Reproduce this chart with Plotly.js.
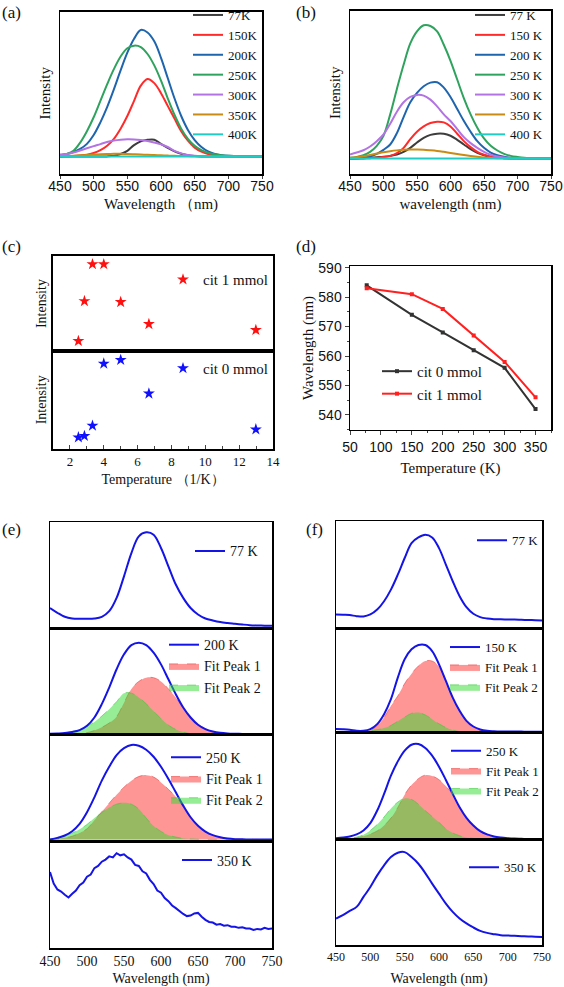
<!DOCTYPE html>
<html><head><meta charset="utf-8">
<script src="https://cdn.plot.ly/plotly-3.0.1.min.js"></script>
<style>html,body{margin:0;padding:0;background:#fff}#chart{width:564px;height:987px}</style>
</head><body><div id="chart"></div><script>
// ---------- shared wavelength grid (nm) ----------
const wavelength = [450,460,470,480,490,500,510,520,530,540,550,560,570,580,590,600,610,620,630,640,650,660,670,680,690,700,710,720,730,740,750];

// ---------- panel (a) ----------
const aLabels = ['77K','150K','200K','250K','300K','350K','400K'];
const a77  = [0,0,0,0,0,0,0,0.001,0.006,0.02,0.045,0.09,0.12,0.132,0.133,0.1,0.068,0.04,0.022,0.01,0.004,0.001,0,0,0,0,0,0,0,0,0];
const a150 = [0,0.002,0.004,0.008,0.014,0.028,0.05,0.085,0.14,0.22,0.32,0.44,0.56,0.612,0.58,0.5,0.4,0.3,0.2,0.125,0.07,0.038,0.02,0.01,0.005,0.002,0,0,0,0,0];
const a200 = [0.01,0.02,0.035,0.06,0.1,0.17,0.27,0.39,0.53,0.68,0.82,0.93,1.0,0.98,0.91,0.78,0.62,0.46,0.32,0.21,0.13,0.075,0.04,0.02,0.01,0.005,0.003,0.002,0.001,0,0];
const a250 = [0.01,0.02,0.045,0.11,0.2,0.31,0.44,0.57,0.69,0.79,0.855,0.876,0.865,0.81,0.72,0.6,0.46,0.33,0.22,0.14,0.085,0.05,0.03,0.017,0.01,0.005,0.003,0.002,0.001,0,0];
const a300 = [0.015,0.02,0.032,0.048,0.065,0.082,0.098,0.115,0.126,0.133,0.136,0.135,0.13,0.122,0.11,0.097,0.075,0.045,0.025,0.012,0.006,0.003,0.002,0.001,0.001,0.001,0.001,0.001,0.001,0.001,0.001];
const a350 = [0.003,0.004,0.006,0.009,0.012,0.015,0.018,0.02,0.021,0.021,0.02,0.018,0.016,0.013,0.011,0.009,0.007,0.005,0.004,0.003,0.002,0.001,0.001,0.001,0.001,0.001,0.001,0.001,0.001,0.001,0.001];
const a400 = [0,0,0,0,0,0,0,0,0,0,0,0,0,0,0,0,0,0,0,0,0,0,0,0,0,0,0,0,0,0,0];

// ---------- panel (b) ----------
const bLabels = ['77 K','150 K','200 K','250 K','300 K','350 K','400 K'];
const b77  = [0,0.001,0.003,0.006,0.01,0.014,0.02,0.03,0.05,0.08,0.12,0.155,0.177,0.186,0.185,0.17,0.14,0.105,0.07,0.043,0.025,0.013,0.006,0.003,0.001,0,0,0,0,0,0];
const b150 = [0,0,0.001,0.003,0.006,0.012,0.02,0.04,0.08,0.145,0.2,0.24,0.265,0.275,0.27,0.24,0.185,0.13,0.085,0.05,0.028,0.014,0.007,0.003,0.001,0,0,0,0,0,0];
const b200 = [0,0.002,0.006,0.015,0.035,0.065,0.105,0.19,0.31,0.42,0.49,0.54,0.567,0.57,0.53,0.46,0.37,0.28,0.2,0.13,0.08,0.045,0.025,0.013,0.006,0.003,0.001,0,0,0,0];
const b250 = [0.005,0.012,0.025,0.05,0.095,0.17,0.33,0.52,0.7,0.86,0.95,0.995,0.99,0.95,0.85,0.73,0.59,0.45,0.33,0.23,0.15,0.095,0.06,0.035,0.02,0.012,0.006,0.003,0.001,0,0];
const b300 = [0.03,0.045,0.062,0.09,0.13,0.18,0.26,0.35,0.42,0.46,0.475,0.47,0.44,0.39,0.33,0.28,0.22,0.16,0.115,0.08,0.05,0.028,0.015,0.008,0.004,0.002,0.001,0,0,0,0];
const b350 = [0.005,0.01,0.018,0.027,0.037,0.047,0.055,0.061,0.065,0.067,0.067,0.066,0.062,0.057,0.05,0.042,0.034,0.026,0.019,0.013,0.008,0.005,0.003,0.002,0.001,0,0,0,0,0,0];
const b400 = [0,0,0,0,0,0,0,0,0,0,0,0,0,0,0,0,0,0,0,0,0,0,0,0,0,0,0,0,0,0,0];

// ---------- panel (c) ----------
const cInvTemp = [2.5,2.857,3.333,4,5,6.667,12.987];
const cCit1 = [0.105,0.526,0.916,0.916,0.516,0.284,0.221];
const cCit0 = [0.115,0.13,0.235,0.87,0.908,0.564,0.197];

// ---------- panel (d) ----------
const dTemp = [77,150,200,250,300,350];
const dCit0 = [584,574,568,562,556,542];
const dCit1 = [583,581,576,567,558,546];

// ---------- panel (e) ----------
const e77   = [0.19,0.145,0.107,0.091,0.088,0.088,0.091,0.107,0.16,0.286,0.49,0.71,0.868,0.906,0.884,0.758,0.585,0.412,0.286,0.19,0.129,0.091,0.072,0.057,0.048,0.041,0.034,0.028,0.025,0.023,0.022];
const e200  = [0.01,0.012,0.016,0.026,0.044,0.084,0.162,0.287,0.442,0.614,0.754,0.841,0.863,0.841,0.77,0.66,0.52,0.38,0.256,0.162,0.094,0.053,0.031,0.019,0.013,0.01,0.008,0.007,0.006,0.006,0.006];
const e200p1 = [0,0,0.002,0.005,0.01,0.02,0.04,0.07,0.11,0.17,0.3,0.43,0.5,0.535,0.535,0.5,0.43,0.35,0.25,0.16,0.1,0.055,0.03,0.015,0.008,0.004,0.002,0.001,0,0,0];
const e200p2 = [0.005,0.01,0.018,0.03,0.05,0.08,0.12,0.175,0.24,0.31,0.39,0.39,0.35,0.29,0.22,0.15,0.09,0.05,0.025,0.01,0.005,0.003,0.001,0,0,0,0,0,0,0,0];
const e250  = [0,0.015,0.037,0.077,0.146,0.255,0.395,0.551,0.681,0.791,0.856,0.886,0.878,0.841,0.775,0.681,0.567,0.442,0.317,0.208,0.128,0.074,0.04,0.021,0.009,0.003,0.001,0,0,0,0];
const e250p1 = [0.002,0.005,0.015,0.03,0.06,0.1,0.18,0.26,0.34,0.42,0.49,0.55,0.59,0.603,0.585,0.535,0.47,0.4,0.31,0.205,0.125,0.072,0.04,0.02,0.009,0.004,0.002,0.001,0,0,0];
const e250p2 = [0.005,0.015,0.035,0.06,0.095,0.14,0.2,0.25,0.3,0.33,0.343,0.33,0.285,0.2,0.125,0.075,0.04,0.022,0.01,0.005,0.002,0,0,0,0,0,0,0,0,0,0];
const e350wl = [450,455,460,465,470,475,480,485,490,495,500,505,510,515,520,525,530,535,540,545,550,555,560,565,570,575,580,585,590,595,600,605,610,615,620,625,630,635,640,645,650,655,660,665,670,675,680,685,690,695,700,705,710,715,720,725,730,735,740,745,750];
const e350  = [0.713,0.605,0.55,0.53,0.5,0.475,0.51,0.54,0.59,0.615,0.67,0.69,0.75,0.77,0.81,0.83,0.86,0.85,0.89,0.87,0.88,0.85,0.83,0.78,0.77,0.72,0.7,0.64,0.6,0.54,0.52,0.47,0.44,0.4,0.375,0.345,0.32,0.3,0.305,0.325,0.33,0.295,0.265,0.245,0.24,0.22,0.225,0.21,0.215,0.2,0.2,0.19,0.195,0.185,0.183,0.17,0.18,0.175,0.19,0.18,0.185];

// ---------- panel (f) ----------
const f77   = [0.128,0.125,0.122,0.112,0.109,0.128,0.174,0.252,0.361,0.501,0.657,0.797,0.85,0.875,0.85,0.75,0.595,0.439,0.299,0.196,0.134,0.103,0.09,0.084,0.082,0.081,0.08,0.078,0.076,0.074,0.072];
const f150  = [0.035,0.033,0.029,0.019,0.019,0.035,0.083,0.178,0.321,0.527,0.702,0.797,0.838,0.838,0.781,0.654,0.495,0.336,0.21,0.114,0.06,0.032,0.019,0.015,0.013,0.013,0.012,0.011,0.01,0.01,0.01];
const f150p1 = [0,0,0,0.003,0.01,0.025,0.067,0.146,0.257,0.352,0.47,0.565,0.638,0.686,0.685,0.63,0.49,0.335,0.205,0.11,0.057,0.028,0.013,0.006,0.002,0,0,0,0,0,0];
const f150p2 = [0.005,0.007,0.01,0.012,0.015,0.02,0.03,0.045,0.07,0.11,0.15,0.185,0.193,0.17,0.13,0.085,0.05,0.025,0.012,0.006,0.003,0,0,0,0,0,0,0,0,0,0];
const f250  = [0.012,0.018,0.028,0.047,0.084,0.153,0.271,0.427,0.598,0.732,0.832,0.888,0.894,0.857,0.785,0.682,0.558,0.427,0.302,0.203,0.131,0.078,0.047,0.028,0.018,0.012,0.008,0.006,0.004,0.003,0.003];
const f250p1 = [0.003,0.006,0.01,0.015,0.03,0.05,0.08,0.13,0.2,0.3,0.42,0.51,0.57,0.603,0.595,0.56,0.5,0.42,0.3,0.2,0.13,0.078,0.045,0.025,0.012,0.006,0.003,0.001,0,0,0];
const f250p2 = [0.005,0.008,0.012,0.022,0.045,0.085,0.14,0.21,0.29,0.35,0.385,0.375,0.33,0.27,0.215,0.16,0.1,0.06,0.035,0.018,0.01,0.005,0.002,0,0,0,0,0,0,0,0];
const f350  = [0.252,0.283,0.324,0.362,0.456,0.55,0.66,0.755,0.833,0.874,0.88,0.833,0.77,0.682,0.582,0.487,0.393,0.314,0.252,0.205,0.167,0.135,0.116,0.104,0.094,0.091,0.088,0.085,0.082,0.08,0.078];

// ---------- styling ----------
const SERIF = 'Liberation Serif, Times New Roman, serif';
const SANS = 'Liberation Sans, Arial, sans-serif';
const abColors = ['#3d3d3d','#ff2b2b','#1f65ae','#2fa35e','#b274e2','#c98b14','#1fcdc4'];
const BLUE = '#1414e6';
const RED_FILL = 'rgba(255,45,45,0.5)';
const GREEN_FILL = 'rgba(45,220,45,0.5)';

const traces = [];
function addLines(xs, series, labels, colors, xa, ya, leg) {
  series.forEach((ys, i) => traces.push({
    type:'scatter', mode:'lines', x:xs, y:ys, name:labels[i], xaxis:xa, yaxis:ya, legend:leg,
    line:{color:colors[i], width:2, shape:'spline'}
  }));
}
addLines(wavelength, [a77,a150,a200,a250,a300,a350,a400], aLabels, abColors, 'x', 'y', 'legend');
addLines(wavelength, [b77,b150,b200,b250,b300,b350,b400], bLabels, abColors, 'x2', 'y2', 'legend2');

traces.push({type:'scatter', mode:'markers', x:cInvTemp, y:cCit1, name:'cit 1 mmol', xaxis:'x3', yaxis:'y3', legend:'legend3',
  marker:{symbol:'star', size:9, color:'#ff1010'}});
traces.push({type:'scatter', mode:'markers', x:cInvTemp, y:cCit0, name:'cit 0 mmol', xaxis:'x4', yaxis:'y4', legend:'legend4',
  marker:{symbol:'star', size:9, color:'#1010ff'}});

traces.push({type:'scatter', mode:'lines+markers', x:dTemp, y:dCit0, name:'cit 0 mmol', xaxis:'x5', yaxis:'y5', legend:'legend5',
  line:{color:'#333333', width:2}, marker:{symbol:'square', size:4, color:'#333333'}});
traces.push({type:'scatter', mode:'lines+markers', x:dTemp, y:dCit1, name:'cit 1 mmol', xaxis:'x5', yaxis:'y5', legend:'legend5',
  line:{color:'#ff2020', width:2}, marker:{symbol:'square', size:4, color:'#ff2020'}});

function addSingle(xs, ys, name, xa, ya, leg, shape) {
  traces.push({type:'scatter', mode:'lines', x:xs, y:ys, name, xaxis:xa, yaxis:ya, legend:leg,
    line:{color:BLUE, width:2, shape:shape||'spline'}});
}
function addFit(ys, p1, p2, name, xa, ya, leg) {
  traces.push({type:'scatter', mode:'lines', x:wavelength, y:p1, name:'Fit Peak 1', xaxis:xa, yaxis:ya, legend:leg, legendrank:2,
    fill:'tozeroy', fillcolor:RED_FILL, line:{color:'rgba(230,60,60,0.7)', width:0.8, dash:'dash', shape:'spline'}});
  traces.push({type:'scatter', mode:'lines', x:wavelength, y:p2, name:'Fit Peak 2', xaxis:xa, yaxis:ya, legend:leg, legendrank:3,
    fill:'tozeroy', fillcolor:GREEN_FILL, line:{color:'rgba(60,200,60,0.7)', width:0.8, dash:'dash', shape:'spline'}});
  traces.push({type:'scatter', mode:'lines', x:wavelength, y:ys, name, xaxis:xa, yaxis:ya, legend:leg, legendrank:1,
    line:{color:BLUE, width:2, shape:'spline'}});
}
addSingle(wavelength, e77, '77 K', 'x6', 'y6', 'legend6');
addFit(e200, e200p1, e200p2, '200 K', 'x7', 'y7', 'legend7');
addFit(e250, e250p1, e250p2, '250 K', 'x8', 'y8', 'legend8');
addSingle(e350wl, e350, '350 K', 'x9', 'y9', 'legend9', 'linear');
addSingle(wavelength, f77, '77 K', 'x10', 'y10', 'legend10');
addFit(f150, f150p1, f150p2, '150 K', 'x11', 'y11', 'legend11');
addFit(f250, f250p1, f250p2, '250 K', 'x12', 'y12', 'legend12');
addSingle(wavelength, f350, '350 K', 'x13', 'y13', 'legend13');

// ---------- axes ----------
function ax(extra) {
  return Object.assign({showline:true, mirror:true, linecolor:'#000', linewidth:1.5, showgrid:false, zeroline:false,
    ticks:'', showticklabels:false, fixedrange:true}, extra);
}
const px2x = p => p/564;
const px2y = p => 1 - p/987;
function xd(l, r) { return [px2x(l), px2x(r)]; }
function yd(t, b) { return [px2y(b), px2y(t)]; }

const layout = {
  width:564, height:987, margin:{l:0,r:0,t:0,b:0}, paper_bgcolor:'#fff', plot_bgcolor:'rgba(0,0,0,0)',
  font:{family:SERIF, color:'#111'}, showlegend:true,
  // (a)
  xaxis: ax({domain:xd(60,262), anchor:'y', range:[450,750], showticklabels:true, tickvals:[450,500,550,600,650,700,750],
    ticks:'outside', ticklen:3, ticklabelstandoff:-5, tickfont:{family:SANS, size:14},
    title:{text:'Wavelength （nm)', font:{family:SERIF, size:15}, standoff:5}}),
  yaxis: ax({domain:yd(9,172), anchor:'x', range:[-0.142,1.142], title:{text:'Intensity', font:{family:SERIF, size:15}, standoff:4}}),
  // (b)
  xaxis2: ax({domain:xd(350,551), anchor:'y2', range:[450,750], showticklabels:true, tickvals:[450,500,550,600,650,700,750],
    ticks:'outside', ticklen:3, ticklabelstandoff:-5, tickfont:{family:SANS, size:14},
    title:{text:'wavelength (nm)', font:{family:SERIF, size:15}, standoff:5}}),
  yaxis2: ax({domain:yd(8,172), anchor:'x2', range:[-0.119,1.102], title:{text:'Intensity', font:{family:SERIF, size:15}, standoff:4}}),
  // (c)
  xaxis3: ax({domain:xd(53,273), anchor:'y3', range:[1,14], linewidth:2}),
  yaxis3: ax({domain:yd(254,349), anchor:'x3', range:[0,1], linewidth:2, title:{text:'Intensity', font:{family:SERIF, size:14}, standoff:1}}),
  xaxis4: ax({domain:xd(53,273), anchor:'y4', range:[1,14], linewidth:2, showticklabels:true,
    tickvals:[2,4,6,8,10,12,14], ticks:'inside', ticklen:4, minor:{dtick:1, ticks:'inside', ticklen:3},
    tickfont:{family:SERIF, size:13},
    title:{text:'Temperature （1/K）', font:{family:SERIF, size:14}, standoff:6}}),
  yaxis4: ax({domain:yd(349,447), anchor:'x4', range:[0,1], linewidth:2, title:{text:'Intensity', font:{family:SERIF, size:14}, standoff:1}}),
  // (d)
  xaxis5: ax({domain:xd(350,551), anchor:'y5', range:[50,375], showticklabels:true, tickvals:[50,100,150,200,250,300,350],
    ticks:'outside', ticklen:4, minor:{dtick:25, ticks:'outside', ticklen:2}, tickfont:{family:SANS, size:14},
    title:{text:'Temperature (K)', font:{family:SERIF, size:15}, standoff:8}}),
  yaxis5: ax({domain:yd(264,428), anchor:'x5', range:[535,590.5], showticklabels:true, tickvals:[540,550,560,570,580,590],
    ticks:'outside', ticklen:4, minor:{dtick:5, ticks:'outside', ticklen:2}, tickfont:{family:SANS, size:14},
    title:{text:'Wavelength (nm)', font:{family:SERIF, size:15}, standoff:1}}),
  annotations: [],
  shapes: []
};
// (e) stacked
const eRows = [[521,627,[0,1]],[627,734,[0,1]],[734,841,[-0.0187,0.9813]],[841,948,[0,1]]];
eRows.forEach((r, i) => {
  const n = 6 + i;
  const last = i === eRows.length - 1;
  layout['xaxis'+n] = ax(Object.assign({domain:xd(50,272), anchor:'y'+n, range:[450,750]}, last ? {
    showticklabels:true, tickvals:[450,500,550,600,650,700,750], tickfont:{family:SERIF, size:14},
    title:{text:'Wavelength (nm)', font:{family:SERIF, size:14}}} : {}));
  layout['yaxis'+n] = ax({domain:yd(r[0], r[1]), anchor:'x'+n, range:r[2]});
});
// (f) stacked
const fRows = [[520,627,[0,1]],[627,732,[0,1]],[732,839,[0,1]],[839,945,[0,1]]];
fRows.forEach((r, i) => {
  const n = 10 + i;
  const last = i === fRows.length - 1;
  layout['xaxis'+n] = ax(Object.assign({domain:xd(336,542), anchor:'y'+n, range:[450,750]}, last ? {
    showticklabels:true, tickvals:[450,500,550,600,650,700,750], tickfont:{family:SERIF, size:12},
    title:{text:'Wavelength (nm)', font:{family:SERIF, size:14}}} : {}));
  layout['yaxis'+n] = ax({domain:yd(r[0], r[1]), anchor:'x'+n, range:r[2]});
});

// ---------- legends ----------
function leg(lx, ty, size) {
  return {x:px2x(lx), y:px2y(ty), xanchor:'left', yanchor:'top', bgcolor:'rgba(0,0,0,0)', borderwidth:0,
    font:{family:SERIF, size:size, color:'#111'}, tracegroupgap:0, traceorder:'normal'};
}
layout.legend   = leg(188, -3, 13);
layout.legend2  = leg(470, -3, 13);
layout.legend3  = leg(163, 261, 15);
layout.legend4  = leg(163, 350, 15);
layout.legend5  = leg(377, 353, 15);
layout.legend6  = leg(190, 534, 14);
layout.legend7  = leg(164, 628, 14);
layout.legend8  = leg(166, 741, 14);
layout.legend9  = leg(177, 844, 14);
layout.legend10 = leg(472, 524, 13);
layout.legend11 = leg(445, 631, 13);
layout.legend12 = leg(446, 735, 13);
layout.legend13 = leg(464, 852, 13);

// ---------- panel letters ----------
[['(a)',11,9.5],['(b)',306,9.5],['(c)',11,244],['(d)',306,244],['(e)',11,528],['(f)',314,528]].forEach(p => {
  layout.annotations.push({text:p[0], xref:'paper', yref:'paper', x:px2x(p[1]), y:px2y(p[2]),
    xanchor:'center', yanchor:'middle', showarrow:false, font:{family:SERIF, size:17, color:'#111'}});
});

Plotly.newPlot('chart', traces, layout, {staticPlot:true, displayModeBar:false});
</script></body></html>
